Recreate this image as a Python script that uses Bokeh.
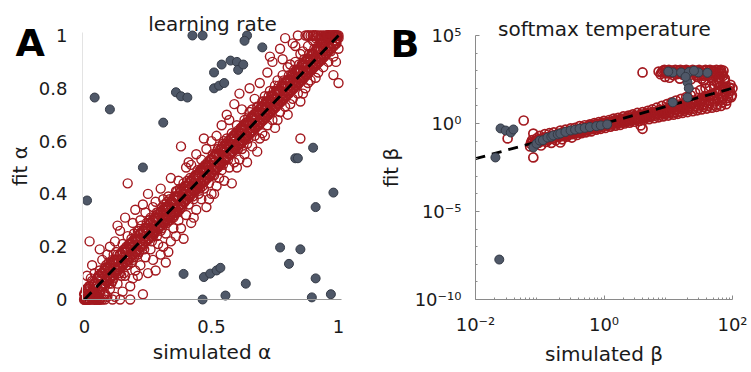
from bokeh.plotting import figure
from bokeh.layouts import row
from bokeh.models import FixedTicker, CustomJSTickFormatter, Label, Range1d
from bokeh.embed import file_html
from bokeh.resources import INLINE
import numpy as np

# ---------------- Panel A data: learning rate (simulated, fit) ----------------
alpha_red = [
 (0.00,0.00),(0.01,0.00),(0.01,0.03),(0.02,0.01),(0.02,0.05),(0.03,0.00),(0.03,0.07),(0.04,0.02),(0.04,0.10),(0.05,0.01),(0.05,0.06),(0.02,0.22),(0.01,0.09),(0.03,0.13),(0.04,0.04),(0.05,0.00),
 (0.06,0.03),(0.06,0.11),(0.07,0.00),(0.07,0.08),(0.07,0.15),(0.08,0.05),(0.08,0.12),(0.09,0.01),(0.09,0.09),(0.09,0.17),(0.10,0.04),(0.10,0.13),(0.06,0.19),(0.08,0.00),(0.10,0.20),
 (0.11,0.07),(0.11,0.15),(0.12,0.01),(0.12,0.11),(0.12,0.22),(0.13,0.06),(0.13,0.17),(0.14,0.10),(0.14,0.26),(0.15,0.03),(0.15,0.14),(0.15,0.21),(0.11,0.00),(0.13,0.28),(0.14,0.00),
 (0.16,0.09),(0.16,0.18),(0.17,0.13),(0.17,0.24),(0.17,0.44),(0.18,0.05),(0.18,0.00),(0.18,0.20),(0.19,0.15),(0.19,0.29),(0.20,0.11),(0.20,0.22),(0.16,0.31),(0.19,0.08),(0.20,0.34),
 (0.21,0.17),(0.21,0.26),(0.22,0.13),(0.22,0.30),(0.23,0.02),(0.23,0.20),(0.23,0.36),(0.24,0.16),(0.24,0.27),(0.25,0.10),(0.25,0.23),(0.25,0.40),(0.22,0.22),(0.24,0.33),(0.21,0.09),
 (0.26,0.19),(0.26,0.31),(0.27,0.24),(0.27,0.15),(0.28,0.28),(0.28,0.37),(0.28,0.11),(0.29,0.21),(0.29,0.33),(0.30,0.26),(0.30,0.17),(0.30,0.42),(0.27,0.35),(0.29,0.27),(0.26,0.25),
 (0.31,0.29),(0.31,0.20),(0.32,0.34),(0.32,0.14),(0.32,0.25),(0.33,0.30),(0.33,0.39),(0.34,0.22),(0.34,0.33),(0.34,0.46),(0.35,0.27),(0.35,0.36),(0.31,0.38),(0.33,0.18),(0.35,0.31),
 (0.36,0.33),(0.36,0.41),(0.36,0.24),(0.37,0.30),(0.37,0.38),(0.38,0.35),(0.38,0.58),(0.38,0.27),(0.39,0.44),(0.39,0.37),(0.40,0.32),(0.40,0.40),(0.40,0.50),(0.37,0.45),(0.39,0.23),
 (0.41,0.36),(0.41,0.44),(0.42,0.40),(0.42,0.29),(0.42,0.51),(0.43,0.38),(0.43,0.46),(0.44,0.42),(0.44,0.34),(0.44,0.55),(0.45,0.40),(0.45,0.48),(0.41,0.52),(0.43,0.31),(0.45,0.43),
 (0.46,0.45),(0.46,0.38),(0.46,0.53),(0.47,0.42),(0.47,0.49),(0.48,0.46),(0.48,0.35),(0.48,0.57),(0.49,0.44),(0.49,0.51),(0.50,0.48),(0.50,0.40),(0.50,0.60),(0.47,0.61),(0.49,0.38),
 (0.51,0.47),(0.51,0.54),(0.52,0.50),(0.52,0.43),(0.52,0.62),(0.53,0.52),(0.53,0.46),(0.54,0.56),(0.54,0.49),(0.54,0.66),(0.55,0.53),(0.55,0.60),(0.51,0.40),(0.53,0.58),(0.55,0.45),
 (0.56,0.54),(0.56,0.61),(0.57,0.58),(0.57,0.50),(0.57,0.68),(0.58,0.56),(0.58,0.63),(0.58,0.44),(0.59,0.60),(0.59,0.52),(0.60,0.58),(0.60,0.66),(0.56,0.70),(0.59,0.74),(0.60,0.50),
 (0.61,0.60),(0.61,0.53),(0.62,0.64),(0.62,0.57),(0.62,0.72),(0.63,0.62),(0.63,0.68),(0.64,0.59),(0.64,0.66),(0.64,0.52),(0.65,0.63),(0.65,0.71),(0.61,0.78),(0.63,0.55),(0.65,0.80),
 (0.66,0.65),(0.66,0.58),(0.67,0.69),(0.67,0.62),(0.67,0.76),(0.68,0.66),(0.68,0.73),(0.69,0.70),(0.69,0.61),(0.69,0.82),(0.70,0.68),(0.70,0.75),(0.66,0.72),(0.68,0.56),(0.70,0.63),
 (0.71,0.70),(0.71,0.77),(0.72,0.73),(0.72,0.66),(0.72,0.86),(0.73,0.71),(0.73,0.79),(0.74,0.75),(0.74,0.68),(0.74,0.90),(0.75,0.73),(0.75,0.81),(0.71,0.62),(0.73,0.92),(0.75,0.65),
 (0.76,0.76),(0.76,0.83),(0.77,0.79),(0.77,0.71),(0.77,0.95),(0.78,0.77),(0.78,0.85),(0.79,0.81),(0.79,0.73),(0.79,0.99),(0.80,0.79),(0.80,0.88),(0.76,0.68),(0.78,0.91),(0.80,0.70),
 (0.81,0.81),(0.81,0.89),(0.82,0.84),(0.82,0.76),(0.82,0.97),(0.83,0.82),(0.83,0.90),(0.84,0.86),(0.84,0.78),(0.84,1.00),(0.85,0.84),(0.85,0.93),(0.81,0.74),(0.83,0.96),(0.85,0.61),(0.85,0.75),
 (0.86,0.86),(0.86,0.94),(0.87,0.89),(0.87,0.80),(0.87,1.00),(0.88,0.87),(0.88,0.96),(0.89,0.91),(0.89,0.83),(0.89,1.00),(0.90,0.89),(0.90,0.98),(0.86,0.78),(0.88,0.82),(0.90,0.93),
 (0.91,0.91),(0.91,0.99),(0.92,0.94),(0.92,0.86),(0.92,1.00),(0.93,0.92),(0.93,0.97),(0.94,0.95),(0.94,0.88),(0.94,1.00),(0.95,0.93),(0.95,1.00),(0.91,0.84),(0.93,1.00),(0.95,0.97),
 (0.96,0.96),(0.96,1.00),(0.97,0.94),(0.97,0.99),(0.98,1.00),(0.98,0.92),(0.99,0.97),(0.99,1.00),(1.00,1.00),(1.00,0.95),(0.96,0.90),(0.98,0.85),(1.00,0.82),(0.97,1.00),(0.99,0.90),(1.00,0.99),
]
alpha_red_core = [
 (0.005,0.035),(0.005,0.000),(0.015,0.000),(0.015,0.040),(0.025,0.080),(0.025,0.010),(0.035,0.020),(0.035,0.060),(0.045,0.050),(0.045,0.000),
 (0.055,0.000),(0.055,0.090),(0.065,0.100),(0.065,0.040),(0.075,0.060),(0.075,0.020),(0.085,0.130),(0.085,0.070),(0.095,0.060),(0.095,0.140),
 (0.105,0.130),(0.105,0.060),(0.115,0.080),(0.115,0.170),(0.125,0.180),(0.125,0.110),(0.135,0.100),(0.135,0.150),(0.145,0.140),(0.145,0.090),
 (0.155,0.100),(0.155,0.190),(0.165,0.200),(0.165,0.130),(0.175,0.150),(0.175,0.210),(0.185,0.230),(0.185,0.140),(0.195,0.160),(0.195,0.250),
 (0.205,0.240),(0.205,0.180),(0.215,0.180),(0.215,0.260),(0.225,0.280),(0.225,0.210),(0.235,0.190),(0.235,0.260),(0.245,0.250),(0.245,0.290),
 (0.255,0.230),(0.255,0.300),(0.265,0.220),(0.265,0.270),(0.275,0.310),(0.275,0.250),(0.285,0.240),(0.285,0.330),(0.295,0.320),(0.295,0.280),
 (0.305,0.270),(0.305,0.350),(0.315,0.360),(0.315,0.290),(0.325,0.290),(0.325,0.370),(0.335,0.380),(0.335,0.300),(0.345,0.310),(0.345,0.370),
 (0.355,0.390),(0.355,0.320),(0.365,0.330),(0.365,0.410),(0.375,0.420),(0.375,0.340),(0.385,0.350),(0.385,0.400),(0.395,0.430),(0.395,0.370),
 (0.405,0.380),(0.405,0.450),(0.415,0.460),(0.415,0.390),(0.425,0.390),(0.425,0.430),(0.435,0.470),(0.435,0.410),(0.445,0.420),(0.445,0.490),
 (0.455,0.490),(0.455,0.420),(0.465,0.430),(0.465,0.500),(0.475,0.510),(0.475,0.450),(0.485,0.460),(0.485,0.520),(0.495,0.530),(0.495,0.470),
 (0.505,0.470),(0.505,0.550),(0.515,0.550),(0.515,0.490),(0.525,0.500),(0.525,0.570),(0.535,0.570),(0.535,0.510),(0.545,0.510),(0.545,0.590),
 (0.555,0.590),(0.555,0.530),(0.565,0.530),(0.565,0.600),(0.575,0.610),(0.575,0.550),(0.585,0.560),(0.585,0.620),(0.595,0.630),(0.595,0.570),
 (0.605,0.570),(0.605,0.640),(0.615,0.650),(0.615,0.590),(0.625,0.600),(0.625,0.660),(0.635,0.670),(0.635,0.610),(0.645,0.610),(0.645,0.690),
 (0.655,0.690),(0.655,0.630),(0.665,0.640),(0.665,0.700),(0.675,0.710),(0.675,0.650),(0.685,0.660),(0.685,0.730),(0.695,0.730),(0.695,0.670),
 (0.705,0.680),(0.705,0.750),(0.715,0.750),(0.715,0.690),(0.725,0.700),(0.725,0.770),(0.735,0.770),(0.735,0.710),(0.745,0.720),(0.745,0.790),
 (0.755,0.790),(0.755,0.730),(0.765,0.740),(0.765,0.810),(0.775,0.810),(0.775,0.750),(0.785,0.760),(0.785,0.830),(0.795,0.830),(0.795,0.770),
 (0.805,0.780),(0.805,0.850),(0.815,0.850),(0.815,0.790),(0.825,0.800),(0.825,0.870),(0.835,0.870),(0.835,0.810),(0.845,0.820),(0.845,0.890),
 (0.855,0.890),(0.855,0.830),(0.865,0.840),(0.865,0.910),(0.875,0.910),(0.875,0.850),(0.885,0.860),(0.885,0.930),(0.895,0.930),(0.895,0.870),
 (0.905,0.880),(0.905,0.950),(0.915,0.950),(0.915,0.890),(0.925,0.900),(0.925,0.970),(0.935,0.970),(0.935,0.910),(0.945,0.920),(0.945,0.990),
 (0.955,1.000),(0.955,0.940),(0.965,0.960),(0.965,1.000),(0.975,1.000),(0.975,0.970),(0.985,0.980),(0.985,1.000),(0.995,1.000),(0.995,0.990),
]
alpha_red_dense = [
 (0.00,0.02),(0.00,0.00),(0.01,0.00),(0.01,0.04),(0.02,0.05),(0.02,0.00),(0.03,0.03),(0.03,0.01),(0.04,0.06),(0.04,0.01),
 (0.05,0.02),(0.05,0.08),(0.06,0.09),(0.06,0.03),(0.07,0.05),(0.07,0.10),(0.08,0.11),(0.08,0.06),(0.09,0.07),(0.09,0.12),
 (0.10,0.12),(0.10,0.08),(0.11,0.09),(0.11,0.14),(0.12,0.15),(0.12,0.10),(0.13,0.11),(0.13,0.15),(0.14,0.17),(0.14,0.12),
 (0.15,0.13),(0.15,0.18),(0.16,0.19),(0.16,0.14),(0.17,0.15),(0.17,0.19),(0.18,0.21),(0.18,0.16),(0.19,0.17),(0.19,0.22),
 (0.20,0.23),(0.20,0.18),(0.21,0.19),(0.21,0.23),(0.22,0.25),(0.22,0.20),(0.23,0.21),(0.23,0.26),(0.24,0.27),(0.24,0.22),
 (0.25,0.23),(0.25,0.27),(0.26,0.29),(0.26,0.24),(0.27,0.25),(0.27,0.30),(0.28,0.31),(0.28,0.26),(0.29,0.27),(0.29,0.31),
 (0.30,0.33),(0.30,0.28),(0.31,0.29),(0.31,0.34),(0.32,0.35),(0.32,0.30),(0.33,0.31),(0.33,0.35),(0.34,0.37),(0.34,0.32),
 (0.35,0.33),(0.35,0.38),(0.36,0.39),(0.36,0.34),(0.37,0.35),(0.37,0.39),(0.38,0.41),(0.38,0.36),(0.39,0.37),(0.39,0.42),
 (0.40,0.43),(0.40,0.38),(0.41,0.39),(0.41,0.43),(0.42,0.45),(0.42,0.40),(0.43,0.41),(0.43,0.46),(0.44,0.47),(0.44,0.42),
 (0.45,0.43),(0.45,0.47),(0.46,0.49),(0.46,0.44),(0.47,0.45),(0.47,0.50),(0.48,0.51),(0.48,0.46),(0.49,0.47),(0.49,0.51),
 (0.50,0.53),(0.50,0.48),(0.51,0.49),(0.51,0.54),(0.52,0.55),(0.52,0.50),(0.53,0.51),(0.53,0.55),(0.54,0.57),(0.54,0.52),
 (0.55,0.53),(0.55,0.58),(0.56,0.59),(0.56,0.54),(0.57,0.55),(0.57,0.59),(0.58,0.61),(0.58,0.56),(0.59,0.57),(0.59,0.62),
 (0.60,0.63),(0.60,0.58),(0.61,0.59),(0.61,0.63),(0.62,0.65),(0.62,0.60),(0.63,0.61),(0.63,0.66),(0.64,0.67),(0.64,0.62),
 (0.65,0.63),(0.65,0.67),(0.66,0.69),(0.66,0.64),(0.67,0.65),(0.67,0.70),(0.68,0.71),(0.68,0.66),(0.69,0.67),(0.69,0.71),
 (0.70,0.73),(0.70,0.68),(0.71,0.69),(0.71,0.74),(0.72,0.75),(0.72,0.70),(0.73,0.71),(0.73,0.75),(0.74,0.77),(0.74,0.72),
 (0.75,0.73),(0.75,0.78),(0.76,0.79),(0.76,0.74),(0.77,0.75),(0.77,0.79),(0.78,0.81),(0.78,0.76),(0.79,0.77),(0.79,0.82),
 (0.80,0.83),(0.80,0.78),(0.81,0.79),(0.81,0.83),(0.82,0.85),(0.82,0.80),(0.83,0.81),(0.83,0.86),(0.84,0.87),(0.84,0.82),
 (0.85,0.83),(0.85,0.87),(0.86,0.89),(0.86,0.84),(0.87,0.85),(0.87,0.90),(0.88,0.91),(0.88,0.86),(0.89,0.87),(0.89,0.91),
 (0.90,0.93),(0.90,0.88),(0.91,0.89),(0.91,0.94),(0.92,0.95),(0.92,0.90),(0.93,0.91),(0.93,0.95),(0.94,0.97),(0.94,0.92),
 (0.95,0.93),(0.95,0.98),(0.96,0.99),(0.96,0.94),(0.97,0.95),(0.97,0.99),(0.98,1.00),(0.98,0.96),(0.99,0.97),(0.99,1.00),
 (0.88,1.00),(0.90,1.00),(0.91,1.00),(0.93,0.99),(0.96,1.00),(0.99,0.98),(0.02,0.02),(0.04,0.00),(0.06,0.00),(0.08,0.02),
]
alpha_gray = [
 (0.425,1.0),(0.465,1.0),(0.64,1.0),(0.63,0.98),(0.70,0.955),
 (0.51,0.86),(0.54,0.89),(0.575,0.905),(0.60,0.90),(0.605,0.87),(0.625,0.89),
 (0.51,0.80),(0.53,0.81),(0.55,0.82),(0.36,0.785),(0.38,0.77),(0.405,0.765),
 (0.04,0.765),(0.10,0.72),(0.31,0.67),(0.23,0.50),(0.01,0.375),
 (0.90,0.575),(0.83,0.535),(0.84,0.535),(0.98,0.405),(0.91,0.35),
 (0.77,0.197),(0.85,0.19),(0.805,0.135),(0.91,0.08),(0.39,0.097),
 (0.47,0.085),(0.495,0.098),(0.52,0.11),(0.535,0.12),(0.635,0.06),
 (0.465,0.0),(0.555,0.015),(0.895,0.008),(0.97,0.02),
]
alpha_ticks_x = [0, 0.5, 1]
alpha_ticks_y = [0, 0.2, 0.4, 0.6, 0.8, 1]

# ---------------- Panel B data: softmax temperature (log10 simulated, log10 fit) ----------------
beta_red_log10 = [
 (-1.15,-1.30),(-1.12,-0.95),(-1.10,-1.93),(-1.08,-1.20),(-1.05,-0.85),(-1.02,-1.10),(-1.00,-0.70),(-0.98,-1.25),(-0.95,-0.90),(-0.92,-0.60),(-0.90,-1.05),(-0.88,-0.80),(-0.85,-0.55),(-0.82,-1.10),(-0.80,-0.85),(-0.78,-0.50),(-0.75,-0.95),(-0.72,-0.70),(-0.70,-0.57),(-0.68,-0.40),(-0.65,-0.90),(-0.62,-0.60),(-0.60,-0.35),(-0.58,-0.75),(-0.55,-0.50),(-0.52,-0.28),(-0.50,-0.80),(-0.48,-0.45),(-0.45,-0.25),(-0.42,-0.65),(-0.40,-0.40),(-0.38,-0.15),(-0.35,-0.55),(-0.32,-0.30),(-0.30,-0.10),(-0.28,-0.50),(-0.25,-0.22),(-0.22,-0.05),(-0.20,-0.45),(-0.18,-0.20),(-0.15,0.02),(-0.12,-0.35),(-0.10,-0.12),(-0.08,0.08),(-0.05,-0.30),(-0.02,-0.05),(0.00,0.15),(0.02,-0.25),(0.05,0.02),(0.08,0.20),(0.10,-0.18),(0.12,0.08),(0.15,0.28),(0.18,-0.12),(0.20,0.12),(0.22,0.32),(0.25,-0.08),(0.28,0.18),(0.30,0.40),(0.32,0.00),(0.35,0.25),(0.38,0.45),(0.40,0.05),(0.42,0.30),(0.45,0.52),(0.48,0.10),(0.50,0.35),(0.52,0.60),(0.55,0.15),(0.58,0.42),(0.60,-0.30),(0.60,0.65),(0.62,0.20),(0.65,0.48),(0.68,0.72),(0.70,0.25),(0.72,0.55),(0.75,0.80),(0.78,0.30),(0.80,0.60),(0.82,0.90),(0.85,0.35),(0.88,0.68),(0.90,1.00),(0.92,0.40),(0.95,0.75),(0.98,1.10),(1.00,0.45),(1.02,0.80),(1.05,1.20),(1.08,0.50),(1.10,0.90),(1.12,1.30),(1.15,0.55),(1.18,0.95),(1.20,1.40),(1.22,0.60),(1.25,1.05),(1.28,1.50),(1.30,0.65),(1.32,1.10),(1.35,1.60),(1.38,0.70),(1.40,1.20),(1.42,1.75),(1.45,0.75),(1.48,1.30),(1.50,1.90),(1.52,0.80),(1.55,1.40),(1.58,2.00),(1.60,0.85),(1.62,1.50),(1.65,2.10),(1.68,0.90),(1.70,1.60),(1.72,2.20),(1.75,0.95),(1.78,1.70),(1.80,2.30),(1.82,1.00),(1.85,1.80),(1.88,2.40),(1.90,1.10),(1.92,1.90),(1.95,2.05),(1.98,1.50),(2.00,2.00),
 (-1.13,-1.05),(-1.07,-1.00),(-1.03,-0.95),(-0.97,-0.88),(-0.93,-0.82),(-0.87,-0.95),(-0.83,-0.72),(-0.77,-0.80),(-0.73,-0.62),(-0.67,-0.70),(-0.63,-0.48),(-0.57,-0.60),(-0.53,-0.42),(-0.47,-0.55),(-0.43,-0.35),(-0.37,-0.45),(-0.33,-0.20),(-0.27,-0.35),(-0.23,-0.12),(-0.17,-0.28),(-0.13,-0.05),(-0.07,-0.18),(-0.03,0.05),(0.03,-0.10),(0.07,0.10),(0.13,-0.02),(0.17,0.18),(0.23,0.05),(0.27,0.28),(0.33,0.12),(0.37,0.35),(0.43,0.20),(0.47,0.42),(0.53,0.28),(0.57,0.50),(0.63,0.35),(0.67,0.58),(0.73,0.42),(0.77,0.65),(0.83,0.52),(0.87,0.78),(0.93,0.60),(0.97,0.88),(1.03,0.65),(1.07,0.98),(1.13,0.75),(1.17,1.08),(1.23,0.82),(1.27,1.20),(1.33,0.90),(1.37,1.32),(1.43,0.98),(1.47,1.45),(1.53,1.05),(1.57,1.55),(1.63,1.15),(1.67,1.65),(1.73,1.25),(1.77,1.85),(1.83,1.35),(1.87,2.00),(1.93,1.45),(1.97,2.20),
 (-1.14,-1.15),(-1.11,-1.05),(-1.09,-1.12),(-1.06,-0.98),(-1.04,-1.08),(-1.01,-0.92),(-0.99,-1.02),(-0.96,-0.85),(-0.94,-0.97),(-0.91,-0.88),(-0.89,-0.78),(-0.86,-0.90),(-0.84,-0.80),(-0.81,-0.70),(-0.79,-0.85),(-0.76,-0.72),(-0.74,-0.65),(-0.71,-0.78),(-0.69,-0.66),(-0.66,-0.58),(-0.64,-0.72),(-0.61,-0.62),(-0.59,-0.52),(-0.56,-0.66),(-0.54,-0.55),(-0.51,-0.45),(-0.49,-0.60),(-0.46,-0.48),(-0.44,-0.38),(-0.41,-0.52),(-0.39,-0.42),(-0.36,-0.32),(-0.34,-0.46),(-0.31,-0.36),(-0.29,-0.26),(-0.26,-0.40),(-0.24,-0.30),(-0.21,-0.18),(-0.19,-0.33),(-0.16,-0.22),(-0.14,-0.12),(-0.11,-0.26),(-0.09,-0.16),(-0.06,-0.05),(-0.04,-0.20),(-0.01,-0.10),(0.01,0.02),(0.04,-0.12),(0.06,-0.02),(0.09,0.08),(0.11,-0.06),(0.14,0.05),(0.16,0.15),(0.19,0.00),(0.21,0.10),(0.24,0.20),(0.26,0.06),(0.29,0.15),(0.31,0.26),(0.34,0.10),(0.36,0.21),(0.39,0.32),(0.41,0.16),(0.44,0.27),(0.46,0.38),(0.49,0.22),(0.51,0.33),(0.54,0.44),(0.56,0.28),(0.59,0.38),(0.61,0.50),(0.64,0.32),(0.66,0.44),(0.69,0.56),(0.71,0.38),(0.74,0.50),(0.76,0.62),(0.79,0.44),(0.81,0.56),(0.84,0.68),(0.86,0.48),(0.89,0.62),(0.91,0.75),(0.94,0.52),(0.96,0.68),(0.99,0.82),(1.01,0.58),(1.04,0.74),(1.06,0.90),(1.09,0.62),(1.11,0.80),(1.14,0.96),(1.16,0.68),(1.19,0.86),(1.21,1.04),(1.24,0.72),(1.26,0.92),(1.29,1.12),(1.31,0.78),(1.34,1.00),(1.36,1.20),(1.39,0.84),(1.41,1.08),(1.44,1.30),(1.46,0.88),(1.49,1.15),(1.51,1.40),(1.54,0.94),(1.56,1.22),(1.59,1.50),(1.61,1.00),(1.64,1.30),(1.66,1.62),(1.69,1.05),(1.71,1.38),(1.74,1.75),(1.76,1.10),(1.79,1.45),(1.81,1.90),(1.84,1.20),(1.86,1.55),(1.89,2.10),(1.91,1.30),(1.94,1.70),(1.96,1.85),(1.99,1.60),
 (0.60,2.90),(0.85,2.95),(0.88,2.80),(0.92,3.00),(0.96,2.90),(1.00,3.00),(1.03,2.85),(1.06,3.00),(1.10,2.95),(1.13,2.80),(1.16,3.00),(1.20,2.90),(1.23,3.00),(1.26,2.82),(1.30,3.00),(1.33,2.95),(1.36,2.78),(1.40,3.00),(1.43,2.88),(1.46,3.00),(1.50,2.95),(1.53,2.80),(1.56,3.00),(1.60,2.90),(1.63,3.00),(1.66,2.85),(1.70,3.00),(1.73,2.95),(1.76,2.80),(1.80,3.00),(1.83,2.90),(1.86,3.00),(1.02,2.60),(1.18,2.55),(1.35,2.50),(1.52,2.55),(1.68,2.60),(1.78,2.50),(0.95,2.65),(1.45,2.65),(1.62,2.70),(1.85,2.70),(1.75,2.35),(1.58,2.30),(1.82,2.15),
 (0.90,2.92),(0.94,3.05),(0.98,2.85),(1.01,3.05),(1.05,2.92),(1.08,2.75),(1.11,3.05),(1.15,2.88),(1.19,3.05),(1.22,2.78),(1.25,2.95),(1.28,3.05),(1.32,2.85),(1.38,3.05),(1.41,2.92),(1.44,2.75),(1.48,3.05),(1.51,2.88),(1.55,2.72),(1.58,3.05),(1.61,2.80),(1.65,3.05),(1.68,2.92),(1.72,2.75),(1.75,3.05),(1.78,2.90),(1.82,3.05),(1.84,2.80),(1.70,2.45),(1.80,2.60),(1.55,2.45),(1.88,2.55),
 (-1.25,0.17),(-1.50,-0.85),(-1.10,-0.57),(-0.68,-1.08),(0.57,-0.11),
]
beta_gray_log10 = [
 (-1.69,-1.93),(-1.61,-0.28),(-1.53,-0.40),(-1.45,-0.51),(-1.41,-0.34),(-1.63,-7.73),
 (-1.10,-1.36),(-1.05,-1.15),(-1.00,-0.97),(-0.95,-0.95),(-0.88,-0.80),(-0.82,-0.75),(-0.79,-0.68),
 (-0.72,-0.62),(-0.68,-0.57),(-0.60,-0.48),(-0.52,-0.40),(-0.45,-0.35),(-0.38,-0.30),(-0.30,-0.25),
 (-0.22,-0.20),(-0.12,-0.15),(-0.05,-0.11),(0.05,-0.05),
 (1.07,2.90),(1.20,2.90),(1.32,2.92),(1.47,2.90),(1.61,2.88),(1.00,2.95),(1.40,3.00),
 (1.30,2.33),(1.32,2.00),(1.30,1.48),(1.07,1.20),(1.27,2.65),
]
beta_ticks_x = [0.01, 1, 100]
beta_ticks_y = [1e-10, 1e-5, 1, 1e5]

RED = "#a3191f"
GRAY_FILL = "#4f5868"
GRAY_LINE = "#343a46"
FONT = "DejaVu Sans"
TXT = "#1a1a1a"
H = 372
WA, WB = 375, 376

def style_axes(p):
    for ax in (p.xaxis[0], p.yaxis[0]):
        ax.major_label_text_font = FONT
        ax.major_label_text_font_size = "18px"
        ax.major_label_text_color = TXT
        ax.axis_label_text_font = FONT
        ax.axis_label_text_font_size = "20px"
        ax.axis_label_text_font_style = "normal"
        ax.axis_label_text_color = TXT
    p.xgrid.visible = False
    p.ygrid.visible = False
    p.outline_line_color = None

def text_label(p, x, y_from_top, text, size, bold=False, align="left"):
    p.add_layout(Label(x=x, y=H - y_from_top, x_units="screen", y_units="screen", text=text,
                       text_font=FONT, text_font_size=size,
                       text_font_style="bold" if bold else "normal",
                       text_color="black" if bold else TXT, text_align=align,
                       text_baseline="alphabetic"))

# ---------------- Panel A ----------------
# pixel anchors of the axes box inside the canvas (the frame fills the whole canvas)
ax0, ax1 = 84, 338      # x = 0, x = 1
ay1, ay0 = 35, 299      # y = 1, y = 0
sx = (ax1 - ax0)
sy = (ay0 - ay1)
pa = figure(width=WA, height=H, output_backend="svg", toolbar_location=None, min_border=0,
            x_range=Range1d(-ax0 / sx, (WA - ax0) / sx),
            y_range=Range1d(-(H - ay0) / sy, 1 + ay1 / sy))
style_axes(pa)
ar = np.array(alpha_red + alpha_red_core)
ad = np.array(alpha_red_dense)
ag = np.array(alpha_gray)
pa.scatter(ar[:, 0], ar[:, 1], marker="circle", size=9, fill_color=None,
           line_color=RED, line_width=1.4)
pa.scatter(ad[:, 0], ad[:, 1], marker="circle", size=9, fill_color=None,
           line_color=RED, line_width=2.2)
pa.line([0, 1], [0, 1], line_color="black", line_width=2.8, line_dash="10 7")
pa.scatter(ag[:, 0], ag[:, 1], marker="circle", size=9, fill_color=GRAY_FILL,
           line_color=GRAY_LINE, line_width=1)
fmt_lin = CustomJSTickFormatter(code="return String(Math.round(tick*10)/10);")
pa.xaxis.ticker = FixedTicker(ticks=alpha_ticks_x)
pa.yaxis.ticker = FixedTicker(ticks=alpha_ticks_y)
pa.xaxis.formatter = fmt_lin
pa.yaxis.formatter = fmt_lin
pa.xaxis.fixed_location = 0
pa.yaxis.fixed_location = -0.008
pa.xaxis.bounds = (-0.008, 1.01)
pa.yaxis.bounds = (0, 1.01)
pa.xaxis.axis_line_color = "#9a9a9a"
pa.yaxis.axis_line_color = "#e3e3e3"
for ax in (pa.xaxis[0], pa.yaxis[0]):
    ax.major_tick_line_color = None
    ax.minor_tick_line_color = None
pa.xaxis.major_label_standoff = 14
pa.yaxis.major_label_standoff = 9
pa.xaxis.axis_label = "simulated α"
pa.yaxis.axis_label = "fit α"
pa.xaxis.axis_label_standoff = 4
pa.yaxis.axis_label_standoff = 4
text_label(pa, 15, 42, "A", "38px", bold=True)
text_label(pa, 212, 23, "learning rate", "20px", align="center")

# ---------------- Panel B ----------------
bx0, bx1 = 100, 357     # log10 x = -2, log10 x = 2 (inside this canvas)
by1, by0 = 35, 299      # log10 y = 5, log10 y = -10
dx = (bx1 - bx0) / 4.0
dy = (by0 - by1) / 15.0
pb = figure(width=WB, height=H, output_backend="svg", toolbar_location=None, min_border=0,
            x_axis_type="log", y_axis_type="log",
            x_range=Range1d(10 ** (-2 - bx0 / dx), 10 ** (2 + (WB - bx1) / dx)),
            y_range=Range1d(10 ** (-10 - (H - by0) / dy), 10 ** (5 + by1 / dy)))
style_axes(pb)
br = 10.0 ** np.array(beta_red_log10)
bg = 10.0 ** np.array(beta_gray_log10)
pb.scatter(br[:, 0], br[:, 1], marker="circle", size=9, fill_color=None,
           line_color=RED, line_width=1.7)
pb.line([0.01, 100], [0.01, 100], line_color="black", line_width=2.8, line_dash="10 7")
pb.scatter(bg[:, 0], bg[:, 1], marker="circle", size=9, fill_color=GRAY_FILL,
           line_color=GRAY_LINE, line_width=1)
fmt_log = CustomJSTickFormatter(code="""
const e = Math.round(Math.log10(tick));
const sup = {'-':'\u207b','0':'\u2070','1':'\u00b9','2':'\u00b2','3':'\u00b3','4':'\u2074','5':'\u2075','6':'\u2076','7':'\u2077','8':'\u2078','9':'\u2079'};
return '10' + String(e).split('').map(c => sup[c]).join('');
""")
x_minor = [m * 10.0 ** d for d in (-2, -1, 0, 1) for m in range(2, 10)]
y_minor = [10.0 ** d for d in range(-9, 5) if d % 5 != 0]
pb.xaxis.ticker = FixedTicker(ticks=beta_ticks_x, minor_ticks=x_minor)
pb.yaxis.ticker = FixedTicker(ticks=beta_ticks_y, minor_ticks=y_minor)
pb.xaxis.formatter = fmt_log
pb.yaxis.formatter = fmt_log
pb.xaxis.fixed_location = 1e-10
pb.yaxis.fixed_location = 0.01
pb.xaxis.bounds = (0.01, 100)
pb.yaxis.bounds = (1e-10, 1e5)
for ax in (pb.xaxis[0], pb.yaxis[0]):
    ax.axis_line_color = "#8a8a8a"
    ax.major_tick_line_color = "#8a8a8a"
    ax.minor_tick_line_color = "#8a8a8a"
    ax.major_tick_in = 4
    ax.major_tick_out = 0
    ax.minor_tick_in = 2
    ax.minor_tick_out = 0
pb.xaxis.major_label_standoff = 14
pb.yaxis.major_label_standoff = 14
pb.xaxis.axis_label = "simulated β"
pb.yaxis.axis_label = "fit β"
pb.xaxis.axis_label_standoff = 4
pb.yaxis.axis_label_standoff = 9
text_label(pb, 15, 43, "B", "38px", bold=True)
text_label(pb, 229, 28, "softmax temperature", "20px", align="center")

layout = row(pa, pb)
open("out.html", "w").write(file_html(layout, INLINE))
